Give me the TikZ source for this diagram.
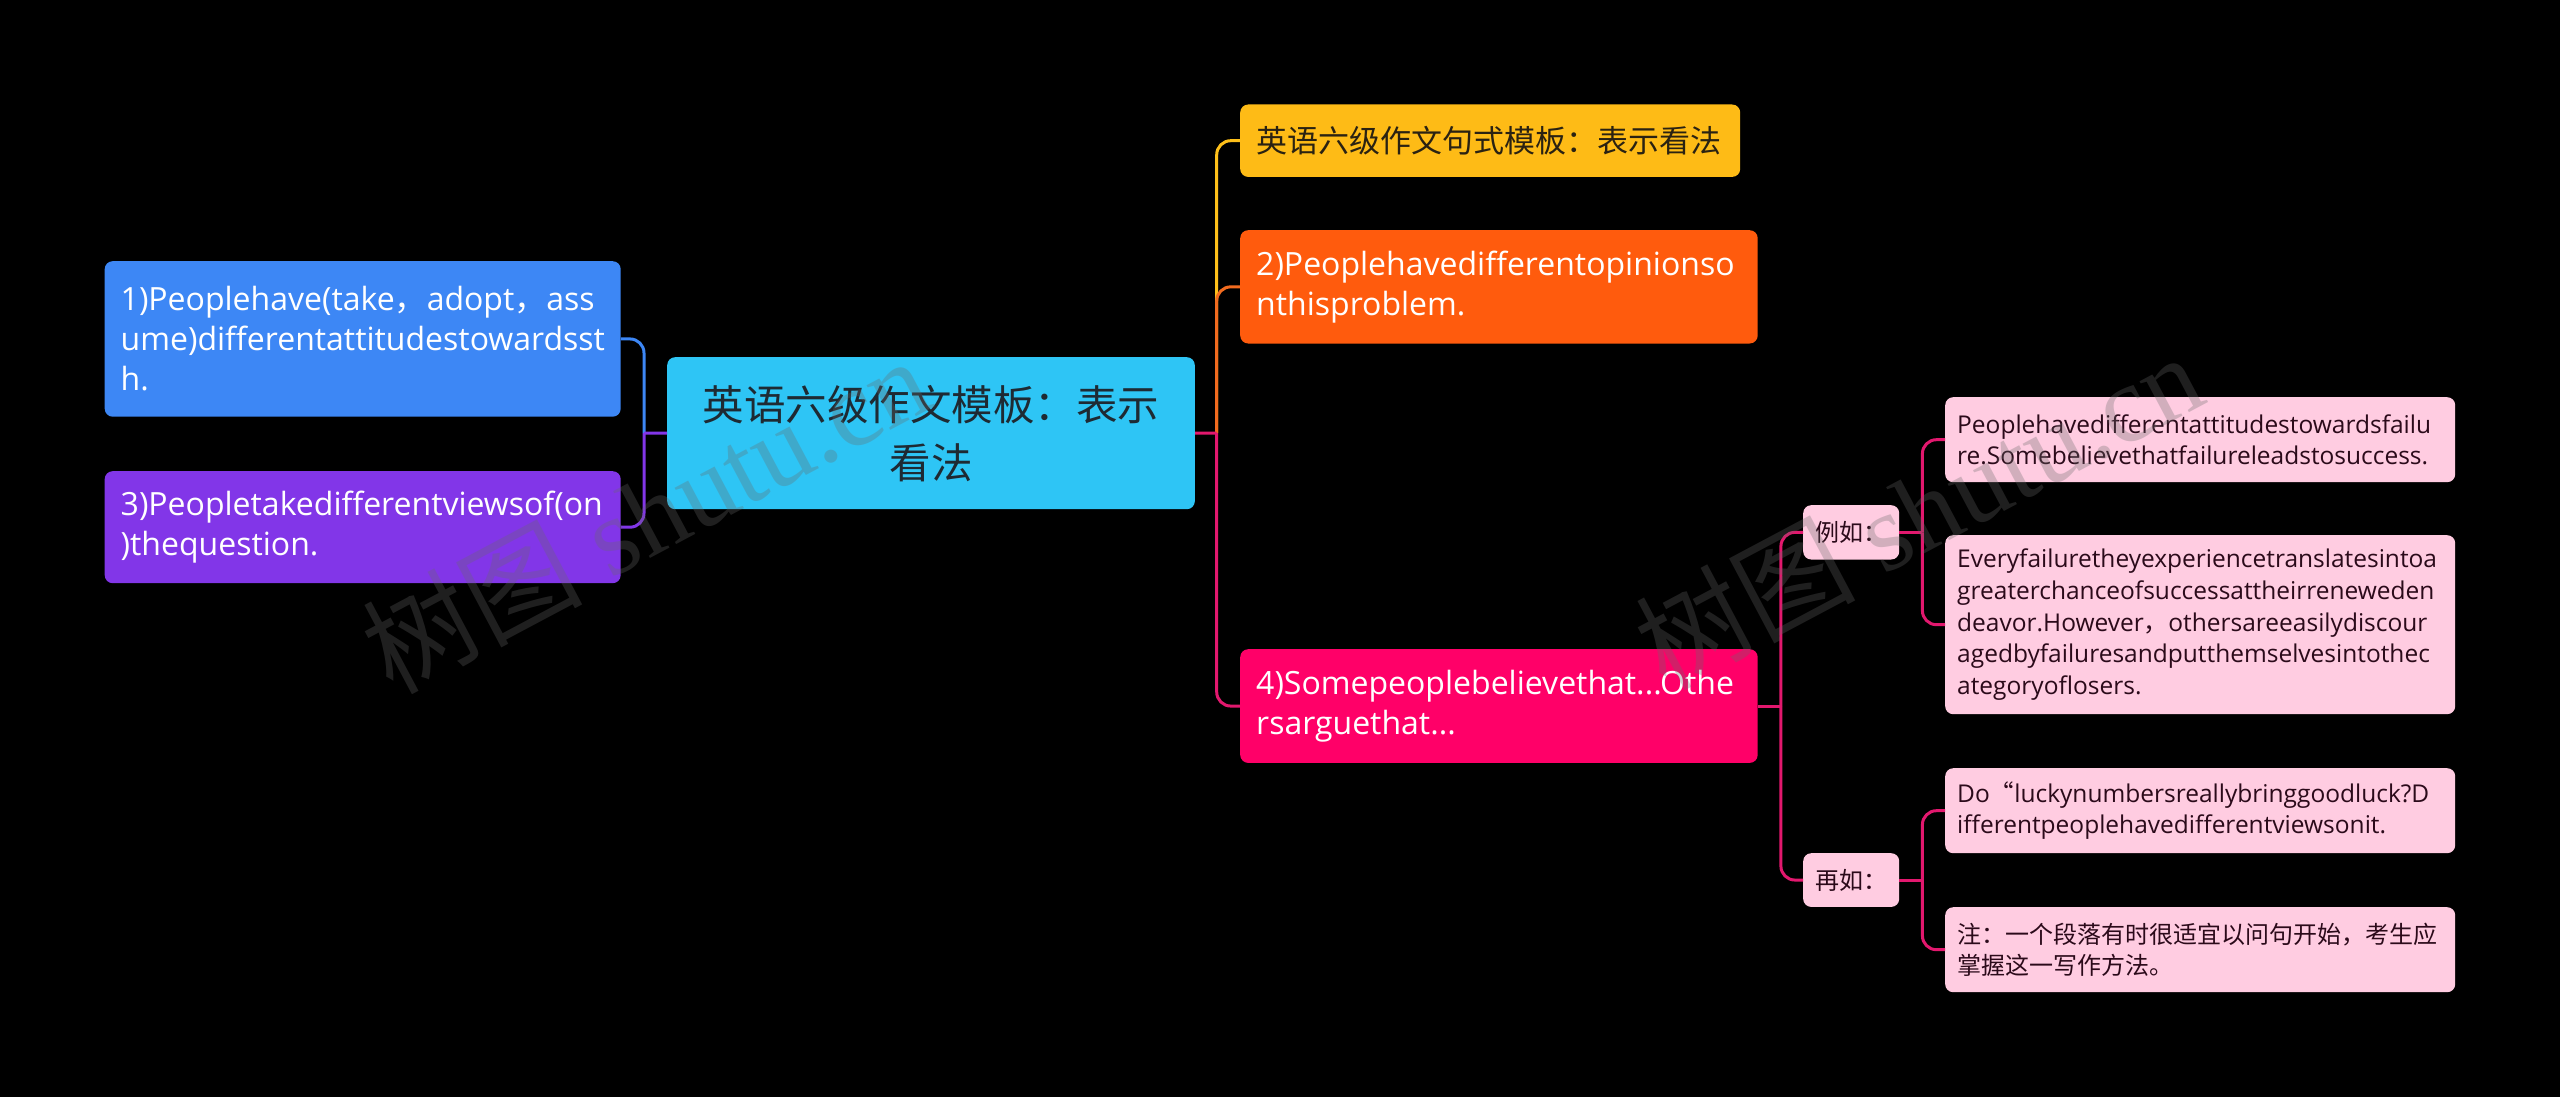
\documentclass[tikz,border=0pt]{standalone}
\usepackage{fontspec}
\setmainfont{Open Sans}
\newfontfamily\cjk{Noto Sans CJK SC}
\newfontfamily\wmlatin{Liberation Serif}
\usetikzlibrary{calc}
\hyphenpenalty=10000
\exhyphenpenalty=10000
\definecolor{cBlue}{HTML}{3D87F5}
\definecolor{cPurple}{HTML}{8236E8}
\definecolor{cCyan}{HTML}{2EC5F5}
\definecolor{cYellow}{HTML}{FEBB16}
\definecolor{cOrange}{HTML}{FF5B0D}
\definecolor{cRose}{HTML}{FF0068}
\definecolor{cLight}{HTML}{FFCCE1}
\definecolor{cDark}{HTML}{2B0A1A}
\definecolor{cCenterText}{HTML}{1E2A33}
\definecolor{cYellowText}{HTML}{2A2212}
\definecolor{lYellow}{HTML}{FEC01A}
\definecolor{lOrange}{HTML}{F26B1F}
\definecolor{lRose}{HTML}{E2186E}
\definecolor{wmGray}{RGB}{105,105,105}
\tikzset{
  mainbox/.style={rounded corners=8pt, anchor=north west, inner xsep=16pt, inner ysep=0pt,
    align=left, text=white, font=\fontsize{32}{40}\selectfont},
  subbox/.style={rounded corners=8pt, anchor=north west, inner xsep=12pt, inner ysep=0pt,
    align=left, fill=cLight, text=cDark, font=\fontsize{24.5}{31.7}\selectfont},
  conn/.style={line width=3pt, rounded corners=14pt},
  stub/.style={line width=3pt},
  wm/.style={text=wmGray, text opacity=0.3, inner sep=0pt, font=\fontsize{110}{110}\selectfont}
}
\begin{document}
\begin{tikzpicture}[x=1pt,y=-1pt]
\fill[black] (0,0) rectangle (2560,1097);
\useasboundingbox (0,0) rectangle (2560,1097);

% root
\node[mainbox, fill=cCyan, text=cCenterText, align=center, text width=495.6pt, minimum height=152pt,
  font=\cjk\fontsize{41.5}{58}\selectfont] (root) at (667,357) {英语六级作文模板：表示\\看法};

% left branches
\node[mainbox, fill=cBlue, text width=484pt, minimum height=155.5pt] (b1) at (104.5,261)
  {1)Peoplehave(take{\cjk ，}adopt{\cjk ，}ass\\ume)differentattitudestowardsst\\h.};
\node[mainbox, fill=cPurple, text width=484pt, minimum height=112pt] (b3) at (104.5,471)
  {3)Peopletakedifferentviewsof(on\\)thequestion.};

% right branches
\node[mainbox, fill=cYellow, text=cYellowText, text width=468pt, minimum height=72.4pt,
  font=\cjk\fontsize{31}{38}\selectfont] (y) at (1240,104.3) {英语六级作文句式模板：表示看法};
\node[mainbox, fill=cOrange, text width=485.5pt, minimum height=113.3pt] (o) at (1240,230)
  {2)Peoplehavedifferentopinionso\\nthisproblem.};
\node[mainbox, fill=cRose, text width=485.5pt, minimum height=113.7pt] (p4) at (1240,649)
  {4)Somepeoplebelievethat...Othe\\rsarguethat...};

% level 3
\node[subbox, text width=72pt, minimum height=54.3pt, font=\cjk\fontsize{24}{30}\selectfont] (li) at (1803,505) {例如：};
\node[subbox, text width=72pt, minimum height=53.7pt, font=\cjk\fontsize{24}{30}\selectfont] (zai) at (1803,853) {再如：};

% level 4
\node[subbox, text width=486pt, minimum height=85pt] (A) at (1945,397)
  {Peoplehavedifferentattitudestowardsfailu\\re.Somebelievethatfailureleadstosuccess.};
\node[subbox, text width=486pt, minimum height=179pt] (B) at (1945,535)
  {Everyfailuretheyexperiencetranslatesintoa\\greaterchanceofsuccessattheirreneweden\\deavor.However{\cjk ，}othersareeasilydiscour\\agedbyfailuresandputthemselvesintothec\\ategoryoflosers.};
\node[subbox, text width=486pt, minimum height=85pt] (C) at (1945,768)
  {Do{\cjk “}luckynumbersreallybringgoodluck?D\\ifferentpeoplehavedifferentviewsonit.};
\node[subbox, text width=486pt, minimum height=85pt, font=\cjk\fontsize{24}{31.7}\selectfont] (D) at (1945,907)
  {注：一个段落有时很适宜以问句开始，考生应\\掌握这一写作方法。};

% junction points
\coordinate (jl) at (644,433);
\coordinate (jr) at (1216.7,433);
\coordinate (j4) at ($(p4.east)+(23,0)$);
\coordinate (jli) at ($(li.east)+(23,0)$);
\coordinate (jzai) at ($(zai.east)+(23,0)$);

% left connectors
\draw[conn, cBlue] (jl) |- (b1.east);
\draw[conn, cPurple] (jl) |- (b3.east);
\draw[stub, cPurple] (root.west) -- (jl);

% right connectors
\draw[conn, lYellow] (jr) |- (y.west);
\draw[conn, lOrange] (jr) |- (o.west);
\draw[conn, lRose] (jr) |- (p4.west);
\draw[stub, lRose] (root.east) -- (jr);

% sub connectors
\draw[stub, lRose] (p4.east) -- (j4);
\draw[conn, lRose] (j4) |- (li.west);
\draw[conn, lRose] (j4) |- (zai.west);
\draw[stub, lRose] (li.east) -- (jli);
\draw[conn, lRose] (jli) |- (A.west);
\draw[conn, lRose] (jli) |- (B.west);
\draw[stub, lRose] (zai.east) -- (jzai);
\draw[conn, lRose] (jzai) |- (C.west);
\draw[conn, lRose] (jzai) |- (D.west);

% watermarks
\node[wm, rotate=28] (wm1) at (645,514) {\cjk 树图\wmlatin{} shutu.cn};
\node[wm, rotate=28] (wm2) at (1918,510) {\cjk 树图\wmlatin{} shutu.cn};
\end{tikzpicture}
\end{document}
